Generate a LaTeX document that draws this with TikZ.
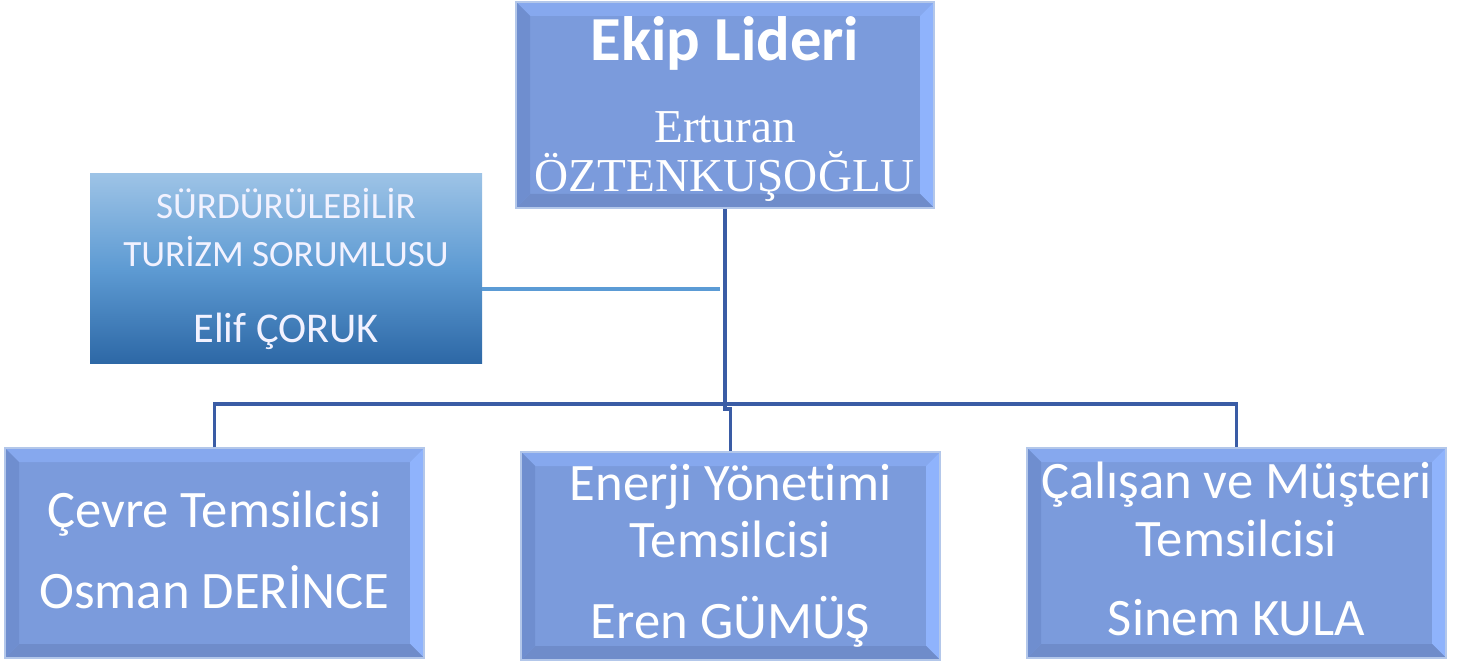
\documentclass[tikz,border=0pt]{standalone}
\usepackage{fontspec}
\setmainfont{Carlito}[Ligatures=NoCommon]
\newfontfamily\timesf{Liberation Serif}
\usetikzlibrary{calc,fit}
\definecolor{bmid}{HTML}{7B9BDC}
\definecolor{btop}{HTML}{86A8EE}
\definecolor{bright}{HTML}{8FB3FC}
\definecolor{bbot}{HTML}{6F8CCA}
\definecolor{bleft}{HTML}{6F8ECF}
\definecolor{bedge}{HTML}{B3C7EA}
\definecolor{conncol}{HTML}{3A5CA5}
\definecolor{sidecol}{HTML}{5B9BD5}
\definecolor{stop}{HTML}{9DC3E6}
\definecolor{smid}{HTML}{5E9BD3}
\definecolor{sbot}{HTML}{2D68A6}
\newcommand\bevbox[5]{%
  \fill[bmid] (#2,#3) rectangle (#4,#5);
  \fill[btop] (#2,#3) -- (#4,#3) -- (#4-14,#3+14) -- (#2+14,#3+14) -- cycle;
  \fill[bright] (#4,#3) -- (#4,#5) -- (#4-14,#5-14) -- (#4-14,#3+14) -- cycle;
  \fill[bbot] (#2,#5) -- (#4,#5) -- (#4-14,#5-14) -- (#2+14,#5-14) -- cycle;
  \fill[bleft] (#2,#3) -- (#2,#5) -- (#2+14,#5-14) -- (#2+14,#3+14) -- cycle;
  \node[fit={(#2,#3)(#4,#5)}, inner sep=0pt, draw=bedge, line width=0.9pt] (#1) {};
}
\tikzset{
  txt/.style={text=white, inner sep=0pt, anchor=base},
  conn/.style={draw=conncol, line width=2.5pt},
  sideconn/.style={draw=sidecol, line width=2.5pt},
}
\begin{document}
\begin{tikzpicture}[x=0.75pt,y=-0.75pt]
\useasboundingbox (0,0) rectangle (1471,663);
% boxes
\bevbox{lead}{516}{2}{934}{208}
\node[fit={(90,174)(482,363)}, inner sep=0pt, top color=stop, bottom color=sbot, middle color=smid] (side) {};
\bevbox{c1}{5}{448}{424}{658}
\bevbox{c2}{521}{452}{940}{660}
\bevbox{c3}{1027}{448}{1446}{658}
% connectors
\coordinate (jh) at (725,404);
\coordinate (jog) at (730.5,409);
\coordinate (sidej) at (720,289);
\draw[conn] (c1.north) |- (jh) -| (c3.north);
\draw[conn] (lead.south) |- (jog -| lead.south) -- (jog) -- (c2.north);
\draw[sideconn] (sidej -| side.east) -- (sidej);
% texts
\node[txt, font=\fontsize{47}{56}\selectfont\bfseries] (t0) at (725,61) {Ekip Lideri};
\node[txt, font=\fontsize{35.4}{42}\selectfont\timesf] (t1) at (725,143) {Erturan};
\node[txt, font=\fontsize{35.4}{42}\selectfont\timesf] (t2) at (725,192) {ÖZTENKUŞOĞLU};
\node[txt, text=white!95!blue, font=\fontsize{27.8}{33}\selectfont] (s1) at (286,219) {SÜRDÜRÜLEBİLİR};
\node[txt, text=white!95!blue, font=\fontsize{27.8}{33}\selectfont] (s2) at (286,267) {TURİZM SORUMLUSU};
\node[txt, text=white!95!blue, font=\fontsize{31.8}{38}\selectfont] (s3) at (286,342) {Elif ÇORUK};
\node[txt, font=\fontsize{39.5}{47}\selectfont] (a1) at (214.5,527) {Çevre Temsilcisi};
\node[txt, font=\fontsize{39.5}{47}\selectfont] (a2) at (214.5,608) {Osman DERİNCE};
\node[txt, font=\fontsize{39.5}{47}\selectfont] (b1) at (730.5,500) {Enerji Yönetimi};
\node[txt, font=\fontsize{39.5}{47}\selectfont] (b2) at (730.5,557) {Temsilcisi};
\node[txt, font=\fontsize{39.5}{47}\selectfont] (b3) at (730.5,638) {Eren GÜMÜŞ};
\node[txt, font=\fontsize{39.5}{47}\selectfont] (d1) at (1236.5,498) {Çalışan ve Müşteri};
\node[txt, font=\fontsize{39.5}{47}\selectfont] (d2) at (1236.5,556) {Temsilcisi};
\node[txt, font=\fontsize{39.5}{47}\selectfont] (d3) at (1236.5,635) {Sinem KULA};
\end{tikzpicture}
\end{document}
